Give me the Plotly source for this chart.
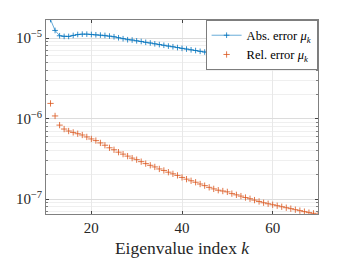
import plotly.graph_objects as go

k_abs = list(range(11, 71))
abs_err = [
    1.70e-5, 1.245e-5, 1.07e-5, 1.05e-5, 1.05e-5, 1.08e-5, 1.11e-5, 1.12e-5, 1.12e-5, 1.11e-5,
    1.10e-5, 1.09e-5, 1.08e-5, 1.06e-5, 1.04e-5, 1.01e-5, 9.83e-6, 9.55e-6, 9.47e-6, 9.26e-6,
    9.08e-6, 8.87e-6, 8.70e-6, 8.50e-6, 8.31e-6, 8.15e-6, 7.96e-6, 7.81e-6, 7.63e-6, 7.46e-6,
    7.31e-6, 7.15e-6, 7.01e-6, 6.85e-6, 6.72e-6, 6.58e-6, 6.45e-6, 6.33e-6, 6.20e-6, 6.11e-6,
    6.01e-6, 5.93e-6, 5.83e-6, 5.74e-6, 5.66e-6, 5.57e-6, 5.49e-6, 5.41e-6, 5.32e-6, 5.24e-6,
    5.17e-6, 5.08e-6, 5.01e-6, 4.93e-6, 4.86e-6, 4.79e-6, 4.72e-6, 4.64e-6, 4.57e-6, 4.51e-6,
]

k_rel = list(range(11, 71))
rel_err = [
    1.544e-6, 1.079e-6, 8.30e-7, 7.42e-7, 7.01e-7, 6.74e-7, 6.49e-7, 6.26e-7, 5.92e-7, 5.59e-7,
    5.33e-7, 4.99e-7, 4.67e-7, 4.34e-7, 4.10e-7, 3.83e-7, 3.62e-7, 3.42e-7, 3.23e-7, 3.09e-7,
    2.92e-7, 2.76e-7, 2.63e-7, 2.51e-7, 2.37e-7, 2.27e-7, 2.16e-7, 2.06e-7, 1.97e-7, 1.86e-7,
    1.77e-7, 1.69e-7, 1.62e-7, 1.54e-7, 1.47e-7, 1.40e-7, 1.34e-7, 1.29e-7, 1.26e-7, 1.23e-7,
    1.17e-7, 1.13e-7, 1.09e-7, 1.046e-7, 1.01e-7, 9.72e-8, 9.35e-8, 9.01e-8, 8.76e-8, 8.51e-8,
    8.28e-8, 8.04e-8, 7.82e-8, 7.61e-8, 7.39e-8, 7.19e-8, 6.99e-8, 6.79e-8, 6.66e-8, 6.47e-8,
]

x_ticks = [20, 40, 60]
y_ticks = [1e-7, 1e-6, 1e-5]
y_tick_text = ["10<sup>−7</sup>", "10<sup>−6</sup>", "10<sup>−5</sup>"]
y_minor = [m * 10.0 ** e for e in (-8, -7, -6, -5) for m in range(2, 10)]

BLUE = "#0072BD"
RED = "#D95319"
FONT = "Liberation Serif"

fig = go.Figure()
fig.add_trace(go.Scatter(
    x=k_abs, y=abs_err, mode="lines+markers",
    name="Abs. error <i>μ<sub>k</sub></i>",
    line=dict(color=BLUE, width=0.6),
    marker=dict(symbol="cross-thin", size=4, color=BLUE, line=dict(color=BLUE, width=0.8)),
))
fig.add_trace(go.Scatter(
    x=k_rel, y=rel_err, mode="markers",
    name="Rel. error <i>μ<sub>k</sub></i>",
    marker=dict(symbol="cross-thin", size=4.5, color=RED, line=dict(color=RED, width=0.8)),
))

# page body has an 8px margin, so the figure is 8px smaller and margins shifted
fig.update_layout(
    width=343, height=250,
    margin=dict(l=38, r=33, t=12, b=44, autoexpand=False),
    paper_bgcolor="white", plot_bgcolor="white",
    font=dict(family=FONT, size=14, color="#262626"),
    showlegend=True,
    legend=dict(
        x=1, y=1, xanchor="right", yanchor="top",
        bgcolor="white", bordercolor="#262626", borderwidth=0.6,
        font=dict(family=FONT, size=12.5, color="#000000"),
        itemwidth=30, tracegroupgap=0,
    ),
    xaxis=dict(
        range=[10, 70], tickvals=x_ticks, ticks="inside", ticklen=3,
        showline=True, linecolor="#808080", linewidth=0.8, mirror="allticks",
        showgrid=True, gridcolor="#e8e8e8", gridwidth=0.6, zeroline=False,
        automargin=False,
        tickfont=dict(family=FONT, size=15, color="#262626"),
        title=dict(text="Eigenvalue index <i>k</i>", font=dict(family=FONT, size=17.5, color="#262626"), standoff=6),
    ),
    yaxis=dict(
        type="log", range=[-7.185, -4.775],
        tickvals=y_ticks, ticktext=y_tick_text, ticks="inside", ticklen=3,
        showline=True, linecolor="#808080", linewidth=0.8, mirror="allticks",
        showgrid=True, gridcolor="#dcdcdc", gridwidth=0.6, zeroline=False,
        automargin=False,
        tickfont=dict(family=FONT, size=15, color="#262626"),
        minor=dict(tickvals=y_minor, ticks="inside", ticklen=2, tickcolor="#808080",
                   showgrid=True, gridcolor="#efefef", gridwidth=0.6),
    ),
)

fig.write_html("out.html")
